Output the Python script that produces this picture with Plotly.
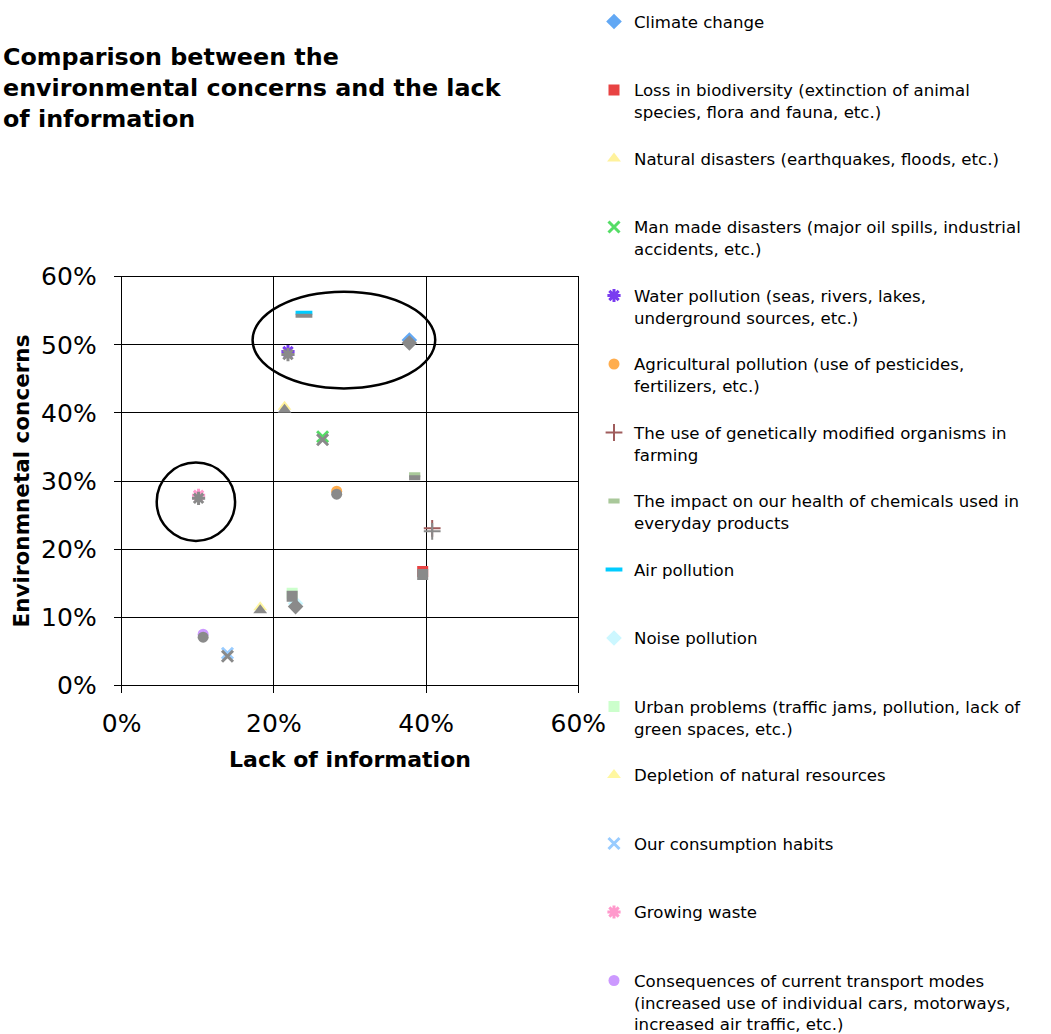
import plotly.graph_objects as go

# ---- data ----
labels = [
    "Climate change",
    "Loss in biodiversity (extinction of animal<br>species, flora and fauna, etc.)",
    "Natural disasters (earthquakes, floods, etc.)",
    "Man made disasters (major oil spills, industrial<br>accidents, etc.)",
    "Water pollution (seas, rivers, lakes,<br>underground sources, etc.)",
    "Agricultural pollution (use of pesticides,<br>fertilizers, etc.)",
    "The use of genetically modified organisms in<br>farming",
    "The impact on our health of chemicals used in<br>everyday products",
    "Air pollution",
    "Noise pollution",
    "Urban problems (traffic jams, pollution, lack of<br>green spaces, etc.)",
    "Depletion of natural resources",
    "Our consumption habits",
    "Growing waste",
    "Consequences of current transport modes<br>(increased use of individual cars, motorways,<br>increased air traffic, etc.)",
]
lack_of_information = [0.378, 0.3955, 0.214, 0.264, 0.2185, 0.2825, 0.408, 0.385,
                       0.2395, 0.2285, 0.224, 0.182, 0.139, 0.101, 0.107]
environmental_concerns = [0.507, 0.167, 0.409, 0.365, 0.490, 0.285, 0.2305, 0.309,
                          0.547, 0.120, 0.135, 0.1145, 0.047, 0.279, 0.075]

x_ticks = [0, 0.2, 0.4, 0.6]
x_tick_text = ["0%", "20%", "40%", "60%"]
y_ticks = [0, 0.1, 0.2, 0.3, 0.4, 0.5, 0.6]
y_tick_text = ["0%", "10%", "20%", "30%", "40%", "50%", "60%"]

# ---- styles ----
symbols = ["diamond", "square", "triangle-up", "x-thin-open", "asterisk-open", "circle",
           "cross-thin-open", "line-ew-open", "line-ew-open", "diamond", "square",
           "triangle-up", "x-thin-open", "asterisk-open", "circle"]
colors = ["#62A8F4", "#E84343", "#FFF29C", "#55DD66", "#7A3CF0", "#FFAD4D",
          "#A05C5C", "#A9C89A", "#00CCFF", "#CCF7FF", "#CCFFCC", "#FFF7A0",
          "#99CCFF", "#FF99CC", "#CC99FF"]
sizes = [12, 11, 12, 11, 11, 11, 12, 8, 12, 12, 11, 12, 11, 11, 11]
line_widths = [0, 0, 0, 3, 3, 0, 2, 5, 4, 0, 0, 0, 3, 3, 0]
FONT = "DejaVu Sans"
SHADOW = "#8a8a8a"
W, H = 1051, 1034
LEGEND_FONT = 16.6
LEGEND_FIRST_Y = 20      # px of first legend line
LEGEND_STEP = 68.5       # px between legend entries
LEGEND_TOP_OFFSET = 5 + LEGEND_FONT * 1.3 / 2

fig = go.Figure()

def marker_for(i, color):
    m = dict(symbol=symbols[i], size=sizes[i], color=color)
    if symbols[i].endswith("-open"):
        m["line"] = dict(color=color, width=line_widths[i])
    else:
        m["line"] = dict(width=0)
    return m

def legend_id(i):
    return "legend" if i == 0 else f"legend{i + 1}"

# shadows (same data drawn on an axis shifted a few pixels)
for i in range(len(labels)):
    fig.add_trace(go.Scatter(
        x=[lack_of_information[i]], y=[environmental_concerns[i]],
        mode="markers", marker=marker_for(i, SHADOW),
        showlegend=False, hoverinfo="skip", yaxis="y2"))

for i, lab in enumerate(labels):
    fig.add_trace(go.Scatter(
        x=[lack_of_information[i]], y=[environmental_concerns[i]],
        mode="markers", name=lab, marker=marker_for(i, colors[i]),
        legend=legend_id(i), showlegend=True))

# plot area
x0, x1 = 121.7 / W, 578.3 / W
y0, y1 = (H - 685.3) / H, (H - 276.7) / H
shift = 3 / 681.0

axis_common = dict(showline=True, linecolor="black", linewidth=1, mirror=True,
                   showgrid=True, gridcolor="black", gridwidth=1,
                   ticks="outside", ticklen=7, tickcolor="black",
                   tickfont=dict(family=FONT, size=25, color="black"),
                   zeroline=False)

fig.update_layout(
    width=W, height=H,
    margin=dict(l=0, r=0, t=0, b=0, autoexpand=False),
    paper_bgcolor="white", plot_bgcolor="white",
    font=dict(family=FONT, color="black"),
    title=dict(text="<b>Comparison between the<br>environmental concerns and the lack<br>of information</b>",
               x=3 / W, xanchor="left", xref="paper",
               y=1 - 65 / H, yanchor="top", yref="container",
               font=dict(family=FONT, size=23.8, color="black")),
    xaxis=dict(domain=[x0, x1], range=[0, 0.6], tickvals=x_ticks, ticktext=x_tick_text,
               ticklabelstandoff=9,
               title=dict(text="<b>Lack of information</b>", font=dict(family=FONT, size=22), standoff=14),
               **axis_common),
    yaxis=dict(domain=[y0, y1], range=[0, 0.6], tickvals=y_ticks, ticktext=y_tick_text,
               ticklabelstandoff=12,
               title=dict(text="<b>Environmnetal concerns</b>", font=dict(family=FONT, size=21.5), standoff=5),
               **axis_common),
    yaxis2=dict(domain=[y0, y1], range=[shift, 0.6 + shift], overlaying="y", visible=False),
    showlegend=True,
)

legend_left = 594 / W
for i in range(len(labels)):
    top_px = LEGEND_FIRST_Y + i * LEGEND_STEP - LEGEND_TOP_OFFSET
    fig.update_layout({legend_id(i): dict(
        x=legend_left, xanchor="left", y=1 - top_px / H, yanchor="top",
        font=dict(family=FONT, size=LEGEND_FONT, color="black"),
        valign="top", itemwidth=30, bgcolor="rgba(0,0,0,0)", borderwidth=0)})

# highlight ellipses
ellipse_big = dict(x0=0.172, x1=0.412, y0=0.436, y1=0.578)
ellipse_small = dict(x0=0.046, x1=0.149, y0=0.212, y1=0.327)
for e in (ellipse_big, ellipse_small):
    fig.add_shape(type="circle", xref="x", yref="y", line=dict(color="black", width=2.5), **e)

fig.write_html("out.html", config={"displayModeBar": False},
               post_script="document.body.style.margin='0';")
